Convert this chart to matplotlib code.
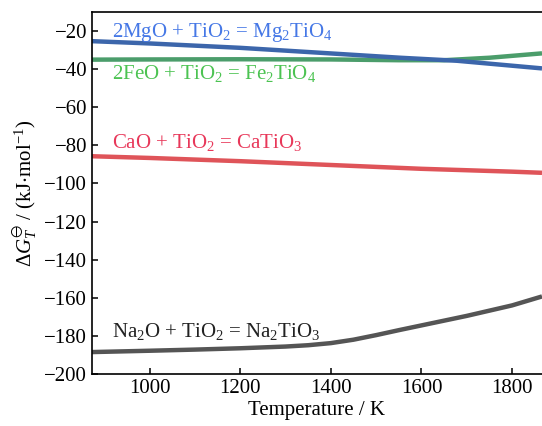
import numpy as np
import matplotlib
matplotlib.use("Agg")
import matplotlib.pyplot as plt

plt.rcParams['font.family'] = ['Liberation Serif', 'DejaVu Serif']
plt.rcParams['mathtext.fontset'] = 'custom'
plt.rcParams['mathtext.rm'] = 'Liberation Serif'
plt.rcParams['mathtext.it'] = 'Liberation Serif:italic'
plt.rcParams['mathtext.fallback'] = 'stix'

# Datos (T en K, ΔG en kJ/mol)
t_mgo = [873, 1000, 1200, 1377, 1553, 1679, 1866]
g_mgo = [-25.3, -26.5, -28.8, -31.4, -34.0, -35.6, -39.6]

t_feo = [873, 1000, 1200, 1400, 1550, 1650, 1750, 1866]
g_feo = [-35.0, -34.9, -34.8, -34.9, -35.3, -35.3, -34.0, -31.7]

t_cao = [873, 1000, 1200, 1400, 1600, 1800, 1866]
g_cao = [-85.7, -86.6, -88.3, -90.3, -92.3, -93.8, -94.4]

t_na = [873, 1000, 1100, 1200, 1300, 1350, 1400, 1450, 1500, 1550,
        1600, 1700, 1800, 1866]
g_na = [-188.5, -187.8, -187.2, -186.5, -185.6, -184.9, -183.8, -182.0,
        -179.6, -177.0, -174.5, -169.5, -164.0, -159.3]

etiquetas = ['2MgO + TiO$_2$ = Mg$_2$TiO$_4$',
             '2FeO + TiO$_2$ = Fe$_2$TiO$_4$',
             'CaO + TiO$_2$ = CaTiO$_3$',
             'Na$_2$O + TiO$_2$ = Na$_2$TiO$_3$']

fig = plt.figure(figsize=(5.42, 4.26), dpi=100)
ax = fig.add_axes([0.1697, 0.1221, 0.8303, 0.8497])

ax.plot(t_feo, g_feo, color='#4b9d6b', lw=3.2, solid_capstyle='butt')
ax.plot(t_mgo, g_mgo, color='#3c66ab', lw=3.2, solid_capstyle='butt')
ax.plot(t_cao, g_cao, color='#df5459', lw=3.2, solid_capstyle='butt')
ax.plot(t_na, g_na, color='#555555', lw=3.2, solid_capstyle='butt')

trans = ax.get_yaxis_transform()
ax.text(0.045, -20.5, etiquetas[0], transform=trans,
        color='#4678e6', fontsize=15, va='center')
ax.text(0.045, -42.5, etiquetas[1], transform=trans,
        color='#4cc352', fontsize=15, va='center')
ax.text(0.045, -78.5, etiquetas[2], transform=trans,
        color='#e8385a', fontsize=15, va='center')
ax.text(0.045, -177.5, etiquetas[3], transform=trans,
        color='#222222', fontsize=15, va='center')

ax.set_xlim(873, 1866)
ax.set_ylim(-200, -10)
ax.set_xticks([1000, 1200, 1400, 1600, 1800])
ax.set_yticks(np.arange(-200, -19, 20))
ax.tick_params(direction='in', length=4, width=1.1, labelsize=15)
ax.spines['right'].set_visible(False)
for s in ['left', 'top', 'bottom']:
    ax.spines[s].set_linewidth(1.2)

ax.set_xlabel('Temperature / K', fontsize=15, labelpad=2)
ax.set_ylabel(r'$\Delta G_T^{\ominus}$ / (kJ$\cdot$mol$^{-1}$)', fontsize=15, labelpad=4)

fig.savefig('out.png', dpi=100)
